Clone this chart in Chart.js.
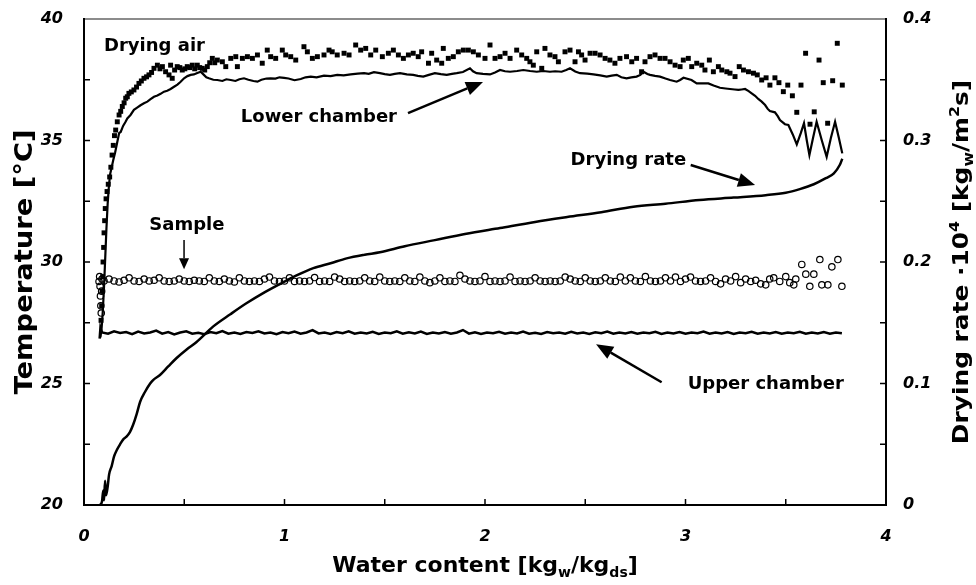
<!DOCTYPE html>
<html>
<head>
<meta charset="utf-8">
<script src="https://cdn.jsdelivr.net/npm/chart.js@4.4.1/dist/chart.umd.min.js"></script>
<style>
  html, body { margin: 0; padding: 0; background: #fff; }
  #wrap { width: 976px; height: 585px; }
</style>
</head>
<body>
<div id="wrap"><canvas id="c" width="976" height="585"></canvas></div>
<script>
// ---- Drying air temperature (filled squares) ----
const airX = [0.085,0.088,0.090,0.093,0.095,0.098,0.100,0.103,0.106,0.110,0.115,0.121,0.128,0.134,0.140,0.146,0.152,0.158,0.166,0.175,
  0.183,0.191,0.200,0.208,0.216,0.224,0.236,0.249,0.262,0.274,0.286,0.299,0.312,0.324,0.337,0.349,0.366,0.379,0.391,0.407,
  0.424,0.432,0.440,0.452,0.465,0.478,0.490,0.503,0.515,0.527,0.540,0.552,0.565,0.577,0.590,0.602,0.615,0.627,0.640,0.652,
  0.665,0.690,0.707,0.732,0.757,0.765,0.790,0.815,0.840,0.865,0.889,0.914,0.931,0.956,0.989,1.006,1.031,1.056,1.097,1.114,
  1.139,1.164,1.197,1.222,1.238,1.263,1.297,1.322,1.355,1.380,1.405,1.430,1.455,1.488,1.518,1.543,1.568,1.593,1.618,1.642,
  1.667,1.684,1.718,1.734,1.759,1.784,1.792,1.817,1.842,1.867,1.892,1.917,1.942,1.967,2.000,2.025,2.050,2.075,2.100,2.125,
  2.158,2.183,2.208,2.224,2.241,2.258,2.283,2.299,2.324,2.349,2.366,2.399,2.424,2.449,2.466,2.482,2.499,2.524,2.549,2.574,
  2.599,2.623,2.648,2.673,2.706,2.732,2.756,2.781,2.798,2.823,2.848,2.873,2.898,2.923,2.948,2.973,2.989,3.014,3.031,3.056,
  3.081,3.097,3.119,3.139,3.164,3.181,3.206,3.222,3.247,3.268,3.289,3.314,3.339,3.358,3.380,3.402,3.421,3.446,3.466,3.488,
  3.510,3.533,3.555,3.576,3.599,3.621,3.642,3.666,3.687,3.709,3.734,3.757,3.782];
const airT = [27.6,28.2,28.8,29.4,30.0,30.6,31.2,31.7,32.2,32.6,32.9,33.2,33.5,33.9,34.4,34.8,35.2,35.43,35.77,36.05,
  36.2,36.4,36.55,36.74,36.8,36.94,37.0,37.08,37.2,37.35,37.45,37.56,37.62,37.7,37.8,37.97,38.1,37.95,38.04,37.83,
  37.7,38.1,37.56,37.9,38.04,38.0,37.9,37.95,38.04,38.0,38.1,37.95,38.1,38.0,37.97,37.9,38.04,38.2,38.38,38.2,
  38.31,38.24,38.04,38.38,38.45,38.04,38.38,38.45,38.38,38.52,38.18,38.72,38.45,38.38,38.72,38.52,38.45,38.31,38.86,38.65,
  38.38,38.45,38.52,38.72,38.65,38.52,38.59,38.52,38.93,38.72,38.79,38.52,38.72,38.45,38.59,38.72,38.52,38.38,38.52,38.59,
  38.45,38.65,38.18,38.59,38.31,38.18,38.79,38.38,38.45,38.65,38.72,38.72,38.65,38.52,38.38,38.93,38.38,38.45,38.59,38.38,
  38.72,38.52,38.38,38.24,38.1,38.65,37.97,38.79,38.52,38.45,38.24,38.65,38.72,38.24,38.65,38.52,38.31,38.59,38.59,38.52,
  38.38,38.31,38.18,38.38,38.45,38.24,38.38,37.83,38.24,38.45,38.52,38.38,38.38,38.24,38.1,38.04,38.31,38.38,38.04,38.18,
  38.1,37.9,38.31,37.83,38.04,37.9,37.83,37.77,37.63,38.04,37.9,37.83,37.77,37.7,37.49,37.58,37.28,37.58,37.38,37.01,
  37.28,36.84,36.16,37.28,38.59,35.67,36.18,38.31,37.38,35.71,37.46,39.0,37.28];

// ---- Lower chamber temperature (line) ----
const lowX = [0.082,0.088,0.094,0.100,0.106,0.112,0.118,0.124,0.130,0.138,0.146,0.155,0.165,0.175,0.183,0.195,0.206,0.216,0.232,0.249,
  0.265,0.282,0.299,0.316,0.332,0.349,0.366,0.382,0.399,0.415,0.432,0.449,0.466,0.482,0.499,0.516,0.532,0.548,0.565,0.582,
  0.598,0.610,0.623,0.645,0.665,0.690,0.710,0.732,0.755,0.775,0.798,0.820,0.845,0.865,0.885,0.910,0.931,0.955,0.975,0.998,
  1.020,1.050,1.081,1.105,1.131,1.160,1.197,1.230,1.263,1.295,1.330,1.365,1.397,1.420,1.446,1.476,1.500,1.526,1.550,1.576,
  1.610,1.642,1.665,1.692,1.720,1.750,1.780,1.809,1.835,1.859,1.890,1.925,1.940,1.958,1.990,2.025,2.050,2.075,2.100,2.125,
  2.160,2.191,2.225,2.258,2.290,2.324,2.350,2.382,2.405,2.424,2.450,2.474,2.510,2.541,2.575,2.607,2.632,2.657,2.680,2.706,
  2.730,2.756,2.775,2.790,2.810,2.823,2.848,2.873,2.900,2.923,2.956,2.973,2.990,3.030,3.056,3.085,3.114,3.140,3.172,3.200,
  3.222,3.245,3.264,3.280,3.297,3.315,3.330,3.347,3.363,3.380,3.397,3.410,3.421,3.446,3.460,3.471,3.496,3.513,3.535,3.555,
  3.575,3.591,3.605,3.618,3.636,3.654,3.680,3.704,3.725,3.746,3.765,3.782];
const lowT = [26.9,27.3,28.0,29.0,30.2,31.4,32.4,33.1,33.6,33.9,34.2,34.5,34.9,35.3,35.35,35.6,35.75,35.91,36.05,36.26,
  36.35,36.45,36.53,36.6,36.7,36.8,36.85,36.92,37.01,37.05,37.12,37.21,37.3,37.42,37.56,37.65,37.7,37.72,37.78,37.83,
  37.7,37.6,37.56,37.5,37.49,37.45,37.52,37.49,37.45,37.52,37.56,37.5,37.45,37.42,37.5,37.55,37.56,37.55,37.6,37.58,
  37.55,37.48,37.53,37.6,37.63,37.6,37.67,37.65,37.7,37.68,37.72,37.75,37.77,37.74,37.81,37.77,37.73,37.7,37.74,37.77,
  37.72,37.7,37.66,37.63,37.7,37.77,37.73,37.7,37.74,37.77,37.82,37.97,37.85,37.77,37.74,37.72,37.8,37.9,37.85,37.83,
  37.86,37.9,37.86,37.83,37.86,37.83,37.85,37.83,37.9,37.97,37.84,37.77,37.75,37.72,37.68,37.63,37.67,37.7,37.6,37.56,
  37.6,37.63,37.7,37.83,37.74,37.7,37.66,37.63,37.55,37.49,37.42,37.49,37.58,37.49,37.35,37.35,37.35,37.26,37.17,37.14,
  37.12,37.1,37.08,37.1,37.12,37.03,36.94,36.84,36.71,36.6,36.46,36.3,36.21,36.16,36.0,35.84,35.67,35.64,35.25,34.84,
  35.3,35.71,35.0,34.4,35.1,35.77,35.0,34.33,35.1,35.77,35.1,34.47];

// ---- Sample temperature (open circles) ----
const smpX = [0.075,0.078,0.080,0.082,0.084,0.086,0.088,0.090,
  0.100,0.125,0.150,0.175,0.200,0.225,0.250,0.275,0.300,0.325,
  0.350,0.375,0.400,0.425,0.450,0.475,0.500,0.525,0.550,0.575,
  0.600,0.625,0.650,0.675,0.700,0.725,0.750,0.775,0.800,0.825,
  0.850,0.875,0.900,0.925,0.950,0.975,1.000,1.025,1.050,1.075,
  1.100,1.125,1.150,1.175,1.200,1.225,1.250,1.275,1.300,1.325,
  1.350,1.375,1.400,1.425,1.450,1.475,1.500,1.525,1.550,1.575,
  1.600,1.625,1.650,1.675,1.700,1.725,1.750,1.775,1.800,1.825,
  1.850,1.875,1.900,1.925,1.950,1.975,2.000,2.025,2.050,2.075,
  2.100,2.125,2.150,2.175,2.200,2.225,2.250,2.275,2.300,2.325,
  2.350,2.375,2.400,2.425,2.450,2.475,2.500,2.525,2.550,2.575,
  2.600,2.625,2.650,2.675,2.700,2.725,2.750,2.775,2.800,2.825,
  2.850,2.875,2.900,2.925,2.950,2.975,3.000,3.025,3.050,3.075,
  3.100,3.125,3.150,3.175,3.200,3.225,3.250,3.275,3.300,3.325,
  3.350,3.375,
  3.40,3.42,3.44,3.47,3.50,3.52,3.54,3.55,3.58,3.60,3.62,3.64,3.67,3.68,3.71,3.73,3.76,3.78];
const smpT = [29.2,29.4,29.0,28.6,28.2,27.9,28.8,29.3,
  29.22,29.3,29.22,29.18,29.25,29.35,29.22,29.2,29.3,29.22,
  29.25,29.35,29.22,29.2,29.22,29.3,29.22,29.2,29.25,29.22,
  29.2,29.35,29.22,29.2,29.3,29.22,29.18,29.35,29.22,29.2,
  29.22,29.2,29.3,29.38,29.22,29.2,29.22,29.35,29.2,29.22,
  29.2,29.22,29.36,29.2,29.22,29.2,29.38,29.3,29.2,29.22,
  29.2,29.22,29.35,29.22,29.2,29.38,29.22,29.2,29.22,29.2,
  29.35,29.22,29.2,29.38,29.22,29.15,29.22,29.35,29.2,29.22,
  29.2,29.45,29.3,29.22,29.2,29.22,29.4,29.2,29.22,29.2,
  29.22,29.38,29.2,29.22,29.2,29.22,29.35,29.22,29.2,29.22,
  29.2,29.22,29.38,29.3,29.22,29.2,29.35,29.22,29.2,29.22,
  29.35,29.22,29.2,29.38,29.22,29.35,29.22,29.2,29.4,29.22,
  29.2,29.22,29.35,29.22,29.38,29.2,29.3,29.38,29.22,29.2,
  29.22,29.35,29.2,29.1,29.3,29.22,29.4,29.15,29.3,29.2,
  29.25,29.1,
  29.06,29.3,29.35,29.2,29.4,29.15,29.06,29.3,29.9,29.5,29.0,29.5,30.1,29.06,29.06,29.8,30.1,29.0];

// ---- Upper chamber temperature (line) ----
const upX = [0.078,0.082,0.090,0.120,0.150,0.180,0.210,0.240,0.270,0.300,0.330,0.360,0.390,0.420,0.450,0.480,0.510,0.540,0.570,0.600,
  0.630,0.660,0.690,0.720,0.750,0.780,0.810,0.840,0.870,0.900,0.930,0.960,0.990,1.020,1.050,1.080,1.110,1.140,1.170,1.200,
  1.230,1.260,1.290,1.320,1.350,1.380,1.410,1.440,1.470,1.500,1.530,1.560,1.590,1.620,1.650,1.680,1.710,1.740,1.770,1.800,
  1.830,1.860,1.890,1.920,1.950,1.980,2.010,2.040,2.070,2.100,2.130,2.160,2.190,2.220,2.250,2.280,2.310,2.340,2.370,2.400,
  2.430,2.460,2.490,2.520,2.550,2.580,2.610,2.640,2.670,2.700,2.730,2.760,2.790,2.820,2.850,2.880,2.910,2.940,2.970,3.000,
  3.030,3.060,3.090,3.120,3.150,3.180,3.210,3.240,3.270,3.300,3.330,3.360,3.390,3.420,3.450,3.480,3.510,3.540,3.570,3.600,
  3.630,3.660,3.690,3.720,3.750,3.780];
const upT = [26.85,27.3,27.1,27.05,27.15,27.08,27.12,27.03,27.14,27.06,27.1,27.18,27.05,27.12,27.02,27.1,27.15,27.05,27.09,27.03,
  27.12,27.07,27.16,27.05,27.1,27.04,27.12,27.08,27.15,27.06,27.1,27.03,27.12,27.07,27.14,27.05,27.1,27.2,27.06,27.1,
  27.04,27.12,27.07,27.15,27.05,27.1,27.06,27.13,27.04,27.1,27.07,27.15,27.05,27.11,27.06,27.14,27.04,27.1,27.06,27.12,
  27.05,27.1,27.2,27.05,27.11,27.04,27.1,27.07,27.13,27.05,27.1,27.06,27.14,27.05,27.09,27.04,27.12,27.07,27.1,27.05,
  27.13,27.06,27.1,27.04,27.11,27.07,27.14,27.05,27.1,27.06,27.12,27.05,27.1,27.07,27.13,27.04,27.1,27.06,27.12,27.05,
  27.1,27.07,27.14,27.05,27.1,27.06,27.12,27.04,27.1,27.07,27.13,27.05,27.1,27.06,27.12,27.05,27.1,27.07,27.13,27.05,
  27.1,27.06,27.12,27.05,27.1,27.07];

// ---- Drying rate (line, right axis, kg_w/m^2 s x 10^4) ----
const rateX = [0.080,0.090,0.096,0.100,0.105,0.110,0.118,0.125,0.138,0.150,0.163,0.180,0.196,0.210,0.229,0.245,0.263,0.280,0.304,0.330,
  0.346,0.379,0.420,0.462,0.512,0.560,0.645,0.730,0.810,0.900,0.978,1.060,1.144,1.230,1.310,1.400,1.476,1.600,1.750,1.900,
  2.075,2.250,2.410,2.580,2.740,2.900,3.070,3.240,3.400,3.500,3.570,3.640,3.700,3.740,3.770,3.782];
const rateV = [0.000,0.003,0.012,0.004,0.020,0.008,0.015,0.025,0.032,0.040,0.045,0.050,0.054,0.056,0.060,0.066,0.075,0.085,0.093,0.100,
  0.103,0.107,0.114,0.121,0.128,0.134,0.147,0.157,0.166,0.175,0.182,0.189,0.195,0.199,0.203,0.206,0.208,0.213,0.218,0.223,
  0.228,0.233,0.237,0.241,0.2455,0.248,0.251,0.253,0.255,0.257,0.260,0.264,0.269,0.273,0.280,0.285];

// ---- Axis ticks ----
const xTickLabels = [0, 1, 2, 3, 4];
const tTickLabels = [20, 25, 30, 35, 40];
const rTickLabels = [0, 0.1, 0.2, 0.3, 0.4];
const xTickMarks = [0.5, 1, 1.5, 2, 2.5, 3, 3.5];
const tTickMarks = [22.5, 25, 27.5, 30, 32.5, 35, 37.5];
const rTickMarks = [0.05, 0.1, 0.15, 0.2, 0.25, 0.3, 0.35];

// ---- Annotation labels (data coordinates: x, temperature) ----
const labels = [
  { text: 'Drying air',    x: 0.100, t: 38.68 },
  { text: 'Lower chamber', x: 0.782, t: 35.76 },
  { text: 'Drying rate',   x: 2.427, t: 33.99 },
  { text: 'Sample',        x: 0.326, t: 31.32 },
  { text: 'Upper chamber', x: 3.011, t: 24.79 }
];
const arrows = [
  { from: [1.616, 36.13], to: [1.990, 37.41] },
  { from: [3.026, 33.99], to: [3.347, 33.17] },
  { from: [0.499, 30.91], to: [0.499, 29.70], small: true },
  { from: [2.881, 25.05], to: [2.554, 26.62] }
];

const FAM = '"DejaVu Sans", "Liberation Sans", Arial, sans-serif';
const pts = (xs, ys) => xs.map((x, i) => ({ x: x, y: ys[i] }));
const tickFont = { family: FAM, size: 16, weight: 'bold', style: 'italic' };

function setTicks(values) {
  return function (scale) { scale.ticks = values.map(v => ({ value: v })); };
}
// Invisible tick marks of a given length: they only set the label offset
function labelGap(len) {
  return { display: true, drawOnChartArea: false, drawTicks: true, tickLength: len, tickColor: 'rgba(0,0,0,0)' };
}

// Text with sub/superscripts; sx stretches along the text direction
function drawRich(ctx, parts, x, y, size, rot, sx) {
  ctx.save();
  ctx.translate(x, y);
  ctx.rotate(rot);
  ctx.scale(sx || 1, 1);
  ctx.textAlign = 'left';
  ctx.textBaseline = 'alphabetic';
  ctx.fillStyle = '#000';
  const small = Math.round(size * 0.62);
  const widths = parts.map(([t, k]) => {
    ctx.font = 'bold ' + (k ? small : size) + 'px ' + FAM;
    return ctx.measureText(t).width;
  });
  const total = widths.reduce((a, b) => a + b, 0);
  let cx = -total / 2;
  parts.forEach(([t, k], i) => {
    ctx.font = 'bold ' + (k ? small : size) + 'px ' + FAM;
    const dy = k === 1 ? size * 0.22 : (k === 2 ? -size * 0.42 : 0);
    ctx.fillText(t, cx, dy);
    cx += widths[i];
  });
  ctx.restore();
}

function drawArrow(ctx, x1, y1, x2, y2, small) {
  const len = small ? 11 : 17, half = small ? 5 : 7;
  const ang = Math.atan2(y2 - y1, x2 - x1);
  const bx = x2 - len * Math.cos(ang), by = y2 - len * Math.sin(ang);
  ctx.save();
  ctx.strokeStyle = '#000';
  ctx.fillStyle = '#000';
  ctx.lineWidth = small ? 1.5 : 2.5;
  ctx.beginPath();
  ctx.moveTo(x1, y1);
  ctx.lineTo(bx, by);
  ctx.stroke();
  ctx.beginPath();
  ctx.moveTo(x2, y2);
  ctx.lineTo(bx + half * Math.sin(ang), by - half * Math.cos(ang));
  ctx.lineTo(bx - half * Math.sin(ang), by + half * Math.cos(ang));
  ctx.closePath();
  ctx.fill();
  ctx.restore();
}

// Frame and inward tick marks
const framePlugin = {
  id: 'frame',
  beforeDatasetsDraw(chart) {
    const { ctx, chartArea: a, scales } = chart;
    ctx.save();
    ctx.lineCap = 'butt';
    ctx.strokeStyle = '#8c8c8c';
    ctx.lineWidth = 2;
    ctx.beginPath();
    ctx.moveTo(a.left, a.top);
    ctx.lineTo(a.right, a.top);
    ctx.stroke();
    ctx.strokeStyle = '#000';
    ctx.beginPath();
    ctx.moveTo(a.left, a.top - 1);
    ctx.lineTo(a.left, a.bottom);
    ctx.lineTo(a.right, a.bottom);
    ctx.lineTo(a.right, a.top - 1);
    ctx.stroke();
    ctx.lineWidth = 1.5;
    ctx.beginPath();
    xTickMarks.forEach(v => {
      const p = scales.x.getPixelForValue(v);
      ctx.moveTo(p, a.bottom); ctx.lineTo(p, a.bottom - 6);
    });
    tTickMarks.forEach(v => {
      const p = scales.y.getPixelForValue(v);
      ctx.moveTo(a.left, p); ctx.lineTo(a.left + 6, p);
    });
    rTickMarks.forEach(v => {
      const p = scales.y2.getPixelForValue(v);
      ctx.moveTo(a.right, p); ctx.lineTo(a.right - 6, p);
    });
    ctx.stroke();
    ctx.restore();
  }
};

// Axis titles, series labels and arrows
const textPlugin = {
  id: 'texts',
  afterDraw(chart) {
    const { ctx, chartArea: a, scales } = chart;
    const cy = (a.top + a.bottom) / 2;
    const cx = (a.left + a.right) / 2;
    drawRich(ctx, [['Water content [kg', 0], ['w', 1], ['/kg', 0], ['ds', 1], [']', 0]], cx, 572, 22, 0, 1);
    drawRich(ctx, [['Temperature [°C]', 0]], 32, cy, 24, -Math.PI / 2, 1.14);
    drawRich(ctx, [['Drying rate ·10', 0], ['4', 2], [' [kg', 0], ['w', 1], ['/m', 0], ['2', 2], ['s]', 0]], 968, cy, 22, -Math.PI / 2, 1.13);

    ctx.save();
    ctx.fillStyle = '#000';
    ctx.font = 'bold 18px ' + FAM;
    ctx.textAlign = 'left';
    ctx.textBaseline = 'alphabetic';
    labels.forEach(l => {
      ctx.fillText(l.text, scales.x.getPixelForValue(l.x), scales.y.getPixelForValue(l.t));
    });
    ctx.restore();
    arrows.forEach(ar => {
      drawArrow(ctx,
        scales.x.getPixelForValue(ar.from[0]), scales.y.getPixelForValue(ar.from[1]),
        scales.x.getPixelForValue(ar.to[0]), scales.y.getPixelForValue(ar.to[1]), ar.small);
    });
  }
};

new Chart(document.getElementById('c'), {
  type: 'scatter',
  data: {
    datasets: [
      { label: 'Upper chamber', data: pts(upX, upT), yAxisID: 'y', showLine: true,
        borderColor: '#000', borderWidth: 2.5, pointRadius: 0, tension: 0 },
      { label: 'Lower chamber', data: pts(lowX, lowT), yAxisID: 'y', showLine: true,
        borderColor: '#000', borderWidth: 2.2, pointRadius: 0, tension: 0 },
      { label: 'Drying rate', data: pts(rateX, rateV), yAxisID: 'y2', showLine: true,
        borderColor: '#000', borderWidth: 2.5, pointRadius: 0, cubicInterpolationMode: 'monotone' },
      { label: 'Sample', data: pts(smpX, smpT), yAxisID: 'y', showLine: false,
        pointStyle: 'circle', pointRadius: 3.2, borderColor: '#000', borderWidth: 1.2,
        backgroundColor: 'rgba(0,0,0,0)' },
      { label: 'Drying air', data: pts(airX, airT), yAxisID: 'y', showLine: false,
        pointStyle: 'rect', pointRadius: 3.5, borderWidth: 0, backgroundColor: '#000', borderColor: '#000' }
    ]
  },
  options: {
    responsive: false,
    animation: false,
    devicePixelRatio: 1,
    layout: { padding: { top: 19, left: 0, right: 0, bottom: 0 } },
    plugins: { legend: { display: false }, tooltip: { enabled: false } },
    scales: {
      x: {
        type: 'linear', position: 'bottom', min: 0, max: 4,
        afterBuildTicks: setTicks(xTickLabels),
        grid: labelGap(22), border: { display: false },
        ticks: { color: '#000', font: tickFont, padding: 0, maxRotation: 0 },
        afterFit(s) { s.height = 80; }
      },
      y: {
        type: 'linear', position: 'left', min: 20, max: 40,
        afterBuildTicks: setTicks(tTickLabels),
        grid: labelGap(21), border: { display: false },
        ticks: { color: '#000', font: tickFont, padding: 0 },
        afterFit(s) { s.width = 84; }
      },
      y2: {
        type: 'linear', position: 'right', min: 0, max: 0.4,
        afterBuildTicks: setTicks(rTickLabels),
        grid: labelGap(17), border: { display: false },
        ticks: { color: '#000', font: tickFont, padding: 0 },
        afterFit(s) { s.width = 90; }
      }
    }
  },
  plugins: [framePlugin, textPlugin]
});
</script>
</body>
</html>
